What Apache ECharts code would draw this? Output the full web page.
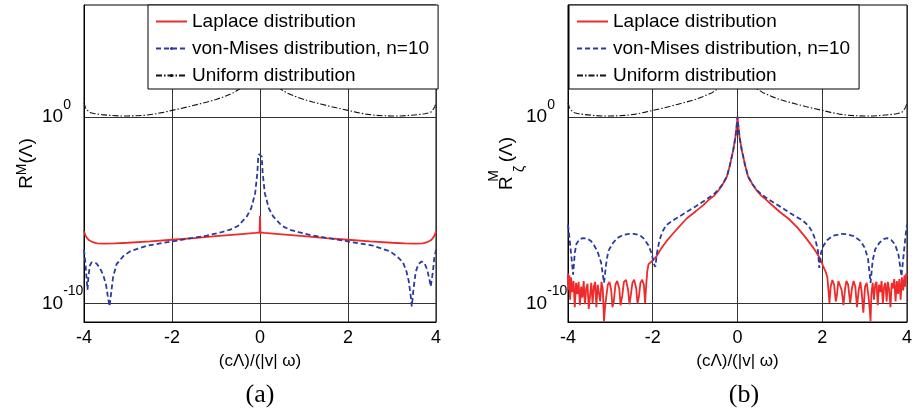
<!DOCTYPE html>
<html>
<head>
<meta charset="utf-8">
<script src="https://cdn.jsdelivr.net/npm/echarts@6/dist/echarts.min.js"></script>
<style>
  html, body { margin: 0; padding: 0; background: #fff; }
  #chart { width: 915px; height: 412px; }
</style>
</head>
<body>
<div id="chart"></div>
<script>
// Values are log10 of R^M (the y axes are drawn in decades).
const xTicks = [-4, -2, 0, 2, 4];
const yTickExponents = [-10, 0];

const seriesNames = ['Laplace distribution', 'von-Mises distribution, n=10', 'Uniform distribution'];

// Uniform distribution (same curve in both panels)
const uniform = [
  [-4, 0.75], [-3.97, 0.52], [-3.94, 0.38], [-3.9, 0.28], [-3.85, 0.22], [-3.75, 0.17],
  [-3.6, 0.12], [-3.4, 0.08], [-3.2, 0.05], [-3.0, 0.05], [-2.8, 0.06], [-2.6, 0.09],
  [-2.4, 0.15], [-2.2, 0.24], [-2.0, 0.35], [-1.8, 0.45], [-1.6, 0.56], [-1.4, 0.68],
  [-1.2, 0.8], [-1.0, 0.93], [-0.8, 1.1], [-0.6, 1.3], [-0.45, 1.52], [-0.3, 1.85],
  [-0.2, 2.2], [-0.1, 2.8], [0, 3.6],
  [0.1, 2.8], [0.2, 2.2], [0.3, 1.85], [0.45, 1.52], [0.6, 1.3], [0.8, 1.1],
  [1.0, 0.93], [1.2, 0.8], [1.4, 0.68], [1.6, 0.56], [1.8, 0.45], [2.0, 0.35],
  [2.2, 0.24], [2.4, 0.15], [2.6, 0.09], [2.8, 0.06], [3.0, 0.05], [3.2, 0.05],
  [3.4, 0.08], [3.6, 0.12], [3.75, 0.17], [3.85, 0.22], [3.9, 0.28], [3.94, 0.38],
  [3.97, 0.52], [4, 0.75]
];

// Panel (a): Laplace distribution
const laplaceA = [
  [-4, -6.14], [-3.97, -6.35], [-3.93, -6.5], [-3.88, -6.62], [-3.8, -6.72], [-3.7, -6.78],
  [-3.55, -6.8], [-3.3, -6.78], [-3.0, -6.75], [-2.5, -6.68], [-2.0, -6.59], [-1.5, -6.5],
  [-1.0, -6.4], [-0.5, -6.3], [-0.1, -6.22], [-0.01, -6.2], [0, -5.3], [0.01, -6.2],
  [0.1, -6.22], [0.5, -6.3], [1.0, -6.4], [1.5, -6.5], [2.0, -6.59], [2.5, -6.68],
  [3.0, -6.75], [3.3, -6.78], [3.55, -6.8], [3.7, -6.78], [3.8, -6.72], [3.88, -6.62],
  [3.93, -6.5], [3.97, -6.35], [4, -6.14]
];

// Panel (a): von-Mises distribution, n=10
const vonMisesA = [
  [-4, -7.12], [-3.97, -7.8], [-3.94, -8.7], [-3.92, -9.27], [-3.9, -8.6], [-3.87, -8.0],
  [-3.83, -7.8], [-3.79, -7.75], [-3.72, -7.85], [-3.64, -8.1], [-3.56, -8.5], [-3.5, -9.0],
  [-3.46, -9.6], [-3.42, -10.16], [-3.38, -9.4], [-3.34, -8.6], [-3.26, -7.9], [-3.1, -7.45],
  [-2.95, -7.21], [-2.57, -6.91], [-2.0, -6.68], [-1.6, -6.52], [-1.21, -6.37], [-0.9, -6.2],
  [-0.68, -6.05], [-0.5, -5.85], [-0.3, -5.34], [-0.2, -4.9], [-0.11, -4.09], [-0.06, -3.0],
  [-0.04, -2.13], [-0.02, -2.0], [0, -1.93],
  [0.02, -2.0], [0.04, -2.13], [0.06, -3.0], [0.11, -4.09], [0.2, -4.9], [0.3, -5.34],
  [0.5, -5.85], [0.68, -6.05], [0.9, -6.2], [1.21, -6.37], [1.6, -6.52], [2.0, -6.68],
  [2.57, -6.91], [2.95, -7.21], [3.1, -7.45], [3.25, -7.8], [3.33, -8.3], [3.38, -8.8],
  [3.42, -9.5], [3.45, -10.16], [3.49, -9.2], [3.54, -8.3], [3.6, -7.9], [3.67, -7.75],
  [3.74, -7.85], [3.8, -8.2], [3.85, -8.7], [3.88, -9.1], [3.9, -9.2], [3.93, -8.3],
  [3.96, -7.6], [4, -7.12]
];

// Panel (b): Laplace distribution
const laplaceB = [
  [-4, -8.4], [-3.99, -9.3], [-3.97, -8.5], [-3.95, -9.8], [-3.93, -8.6], [-3.9, -9.4],
  [-3.87, -8.8], [-3.84, -10.2], [-3.81, -8.9], [-3.78, -9.5], [-3.75, -8.85], [-3.72, -10.1],
  [-3.69, -9.1], [-3.66, -9.7], [-3.63, -8.8], [-3.6, -10.05], [-3.57, -9.2], [-3.54, -8.95],
  [-3.51, -10.3], [-3.48, -9.6], [-3.45, -8.9], [-3.42, -10.0], [-3.39, -9.1], [-3.36, -8.85],
  [-3.33, -10.2], [-3.3, -9.0], [-3.27, -8.9], [-3.24, -9.9], [-3.21, -8.85], [-3.18, -9.2],
  [-3.15, -10.96], [-3.13, -10.3], [-3.1, -9.7], [-3.06, -9.0], [-3.02, -8.85], [-2.98, -9.3],
  [-2.95, -10.2], [-2.92, -9.9], [-2.88, -9.0], [-2.84, -8.8], [-2.79, -9.2], [-2.76, -10.1],
  [-2.72, -9.6], [-2.68, -8.85], [-2.63, -8.75], [-2.58, -9.3], [-2.55, -10.05], [-2.52, -9.6],
  [-2.48, -8.9], [-2.44, -8.73], [-2.39, -9.2], [-2.36, -10.0], [-2.33, -9.7], [-2.29, -8.9],
  [-2.25, -8.73], [-2.21, -9.0], [-2.18, -9.98], [-2.16, -9.2], [-2.13, -8.3], [-2.1, -7.9],
  [-2.0, -7.7], [-1.91, -7.48], [-1.8, -7.05], [-1.68, -6.68], [-1.5, -6.2], [-1.37, -5.87],
  [-1.2, -5.45], [-0.99, -5.07], [-0.8, -4.72], [-0.68, -4.45], [-0.56, -4.25], [-0.45, -3.95],
  [-0.35, -3.62], [-0.25, -3.2], [-0.18, -2.6], [-0.1, -1.77], [-0.05, -1.1], [-0.02, -0.5],
  [0, 0],
  [0.02, -0.5], [0.05, -1.1], [0.1, -1.77], [0.18, -2.6], [0.25, -3.2], [0.35, -3.6],
  [0.45, -3.93], [0.56, -4.22], [0.68, -4.45], [0.8, -4.7], [1.0, -5.1], [1.2, -5.45],
  [1.4, -5.9], [1.6, -6.45], [1.8, -7.05], [1.91, -7.45], [1.97, -7.7], [2.02, -8.0],
  [2.08, -8.3], [2.12, -8.6], [2.15, -9.4], [2.17, -9.98], [2.2, -9.1], [2.24, -8.75],
  [2.28, -9.0], [2.32, -9.9], [2.35, -9.5], [2.38, -8.8], [2.42, -8.75], [2.46, -9.3],
  [2.5, -10.1], [2.54, -9.2], [2.57, -8.8], [2.61, -9.0], [2.66, -10.0], [2.7, -9.2],
  [2.74, -8.8], [2.78, -9.1], [2.82, -10.2], [2.86, -9.3], [2.9, -8.85], [2.93, -9.4],
  [2.97, -10.5], [3.01, -9.1], [3.05, -8.9], [3.09, -9.6], [3.12, -10.3], [3.14, -10.96],
  [3.16, -9.5], [3.19, -8.9], [3.22, -9.8], [3.25, -9.0], [3.28, -8.85], [3.31, -10.1],
  [3.34, -9.0], [3.37, -9.4], [3.4, -8.8], [3.43, -10.0], [3.46, -9.1], [3.49, -8.9],
  [3.52, -9.9], [3.55, -8.85], [3.58, -9.3], [3.61, -10.2], [3.64, -8.9], [3.67, -9.2],
  [3.7, -8.7], [3.73, -9.9], [3.76, -8.8], [3.79, -9.5], [3.82, -8.7], [3.85, -9.8],
  [3.88, -8.6], [3.91, -9.3], [3.94, -8.5], [3.96, -9.1], [3.98, -8.4], [4, -8.55]
];

// Panel (b): von-Mises distribution, n=10
const vonMisesB = [
  [-4, -5.78], [-3.96, -6.6], [-3.92, -7.5], [-3.88, -8.46], [-3.84, -7.3], [-3.8, -6.8],
  [-3.72, -6.55], [-3.65, -6.5], [-3.55, -6.52], [-3.46, -6.65], [-3.38, -6.9], [-3.3, -7.25],
  [-3.22, -7.8], [-3.15, -8.9], [-3.1, -7.9], [-3.05, -7.2], [-2.95, -6.8], [-2.84, -6.5],
  [-2.7, -6.33], [-2.55, -6.27], [-2.45, -6.27], [-2.3, -6.35], [-2.2, -6.55], [-2.1, -6.9],
  [-2.03, -7.3], [-1.97, -7.9], [-1.94, -8.05], [-1.9, -7.3], [-1.84, -6.6], [-1.77, -6.15],
  [-1.68, -5.8], [-1.5, -5.52], [-1.37, -5.34], [-1.2, -5.1], [-0.99, -4.8], [-0.75, -4.45],
  [-0.56, -4.15], [-0.45, -3.91], [-0.35, -3.6], [-0.25, -3.2], [-0.18, -2.6], [-0.1, -1.77],
  [-0.05, -1.1], [-0.02, -0.5], [0, 0],
  [0.02, -0.5], [0.05, -1.1], [0.1, -1.77], [0.18, -2.6], [0.25, -3.2], [0.35, -3.6],
  [0.45, -3.91], [0.56, -4.15], [0.75, -4.45], [1.0, -4.8], [1.2, -5.1], [1.37, -5.34],
  [1.52, -5.52], [1.68, -5.85], [1.77, -6.2], [1.84, -6.6], [1.9, -7.2], [1.93, -8.1],
  [1.97, -7.3], [2.03, -6.9], [2.12, -6.6], [2.25, -6.38], [2.45, -6.27], [2.6, -6.3],
  [2.75, -6.4], [2.9, -6.65], [3.0, -7.0], [3.08, -7.6], [3.14, -8.9], [3.19, -7.7],
  [3.25, -7.1], [3.35, -6.75], [3.45, -6.55], [3.53, -6.5], [3.63, -6.6], [3.72, -6.85],
  [3.8, -7.4], [3.87, -8.55], [3.92, -7.4], [3.96, -6.5], [4, -5.78]
];

const FONT = '"Liberation Sans", Arial, Helvetica, sans-serif';
const RED = '#ee2a2a';
const BLUE = '#2b3a9e';
const BLACK = '#111111';

const chart = echarts.init(document.getElementById('chart'), null, { renderer: 'canvas' });

const grids = [
  { left: 84, top: 5, width: 352, height: 317 },
  { left: 568, top: 5, width: 346, height: 317 }
];

function xAxisFor(gridIndex) {
  return {
    type: 'value', gridIndex, min: xTicks[0], max: xTicks[xTicks.length - 1], interval: 2,
    axisLine: { show: true, onZero: false, lineStyle: { color: '#000', width: 1 } },
    axisTick: { show: false },
    axisLabel: { color: '#000', fontSize: 18, fontFamily: FONT, margin: 7 },
    splitLine: { show: true, lineStyle: { color: '#333', width: 1 } },
    name: '(cΛ)/(|v| ω)', nameLocation: 'middle', nameGap: 31, nameMoveOverlap: false,
    nameTextStyle: { color: '#000', fontSize: 17, fontFamily: FONT }
  };
}

// Rich styles for the y axis titles: R with superscript M (and subscript ζ in panel b)
const nameRichA = {
  r: { fontSize: 19, lineHeight: 24, fontFamily: FONT, color: '#000' },
  sup: { fontSize: 14, lineHeight: 14, verticalAlign: 'top', fontFamily: FONT, color: '#000' }
};
const nameRichB = {
  r: { fontSize: 19, lineHeight: 40, fontFamily: FONT, color: '#000' },
  sup: { fontSize: 14, lineHeight: 14, verticalAlign: 'top', width: 1, fontFamily: FONT, color: '#000' },
  sub: { fontSize: 14, lineHeight: 26, verticalAlign: 'bottom', width: 13, fontFamily: FONT, color: '#000' }
};

function yAxisFor(gridIndex, name, rich, gap) {
  return {
    type: 'value', gridIndex, min: -11, max: 6,
    axisLine: { show: true, onZero: false, lineStyle: { color: '#000', width: 1 } },
    axisTick: { show: false, customValues: yTickExponents },
    axisLabel: {
      customValues: yTickExponents, align: 'left', margin: 42,
      formatter: v => '{b|10}{s|' + v + '}',
      rich: {
        b: { fontSize: 19, lineHeight: 38, fontFamily: FONT, color: '#000' },
        s: { fontSize: 14, lineHeight: 14, verticalAlign: 'top', fontFamily: FONT, color: '#000' }
      }
    },
    splitLine: { show: true, lineStyle: { color: '#333', width: 1 } },
    name, nameLocation: 'middle', nameRotate: 90, nameGap: gap, nameMoveOverlap: false,
    nameTextStyle: { rich }
  };
}

function legendFor(left, showDots) {
  const hidden = { opacity: 0 };
  return {
    left, top: 5, orient: 'vertical', padding: [7, 9, 4, 7], itemGap: 8,
    itemWidth: 31, itemHeight: 4, selectedMode: false,
    backgroundColor: '#fff', borderColor: '#000', borderWidth: 1,
    textStyle: { fontSize: 19, color: '#000', fontFamily: FONT },
    data: [
      { name: seriesNames[0], itemStyle: hidden },
      showDots ? { name: seriesNames[1] } : { name: seriesNames[1], itemStyle: hidden },
      showDots ? { name: seriesNames[2] } : { name: seriesNames[2], itemStyle: hidden }
    ]
  };
}

function panelSeries(idx, laplace, vonMises) {
  return [
    {
      name: seriesNames[0], type: 'line', xAxisIndex: idx, yAxisIndex: idx,
      data: laplace, symbol: 'none', color: RED,
      lineStyle: { color: RED, width: 1.8 }, z: 2
    },
    {
      name: seriesNames[1], type: 'line', xAxisIndex: idx, yAxisIndex: idx,
      data: vonMises, symbol: 'circle', showSymbol: false, color: BLUE,
      lineStyle: { color: BLUE, width: 1.8, type: [5, 3] }, z: 3
    },
    {
      name: seriesNames[2], type: 'line', xAxisIndex: idx, yAxisIndex: idx,
      data: uniform, symbol: 'circle', showSymbol: false, color: BLACK,
      lineStyle: { color: BLACK, width: 1.1, type: [6, 2, 1.5, 2] }, z: 3
    }
  ];
}

const option = {
  animation: false,
  textStyle: { fontFamily: FONT },
  grid: grids.map(g => Object.assign({ show: true, borderColor: '#000', borderWidth: 1, backgroundColor: 'transparent' }, g)),
  xAxis: [xAxisFor(0), xAxisFor(1)],
  yAxis: [
    yAxisFor(0, '{r|R}{sup|M}{r|(Λ)}', nameRichA, 45),
    yAxisFor(1, '{r|R}{sup|M}{sub|ζ}{r|(Λ)}', nameRichB, 41)
  ],
  legend: [legendFor(148, true), legendFor(569, false)],
  series: panelSeries(0, laplaceA, vonMisesA).concat(panelSeries(1, laplaceB, vonMisesB)),
  graphic: [
    { type: 'text', x: 260, y: 395, style: { text: '(a)', font: '26px "Liberation Serif", "Times New Roman", serif', fill: '#000', align: 'center', verticalAlign: 'middle' } },
    { type: 'text', x: 744, y: 395, style: { text: '(b)', font: '26px "Liberation Serif", "Times New Roman", serif', fill: '#000', align: 'center', verticalAlign: 'middle' } }
  ]
};

chart.setOption(option);
</script>
</body>
</html>
